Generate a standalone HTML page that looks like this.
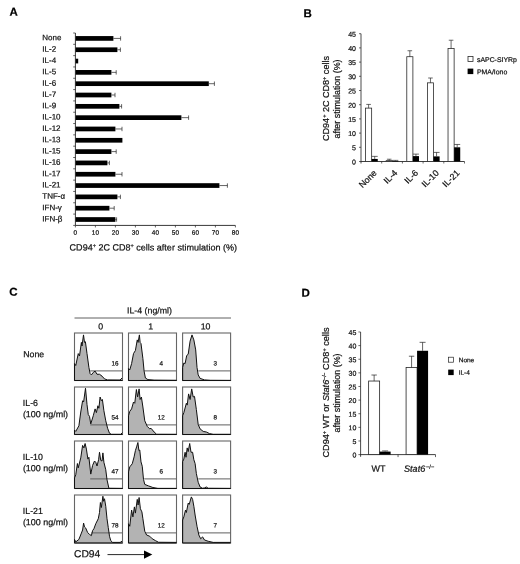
<!DOCTYPE html>
<html><head><meta charset="utf-8"><title>Figure</title>
<style>
html,body{margin:0;padding:0;background:#fff;}
body{width:520px;height:564px;overflow:hidden;}
svg{display:block;font-family:"Liberation Sans", Arial, Helvetica, sans-serif;}
text{stroke:#111;stroke-width:0.22px;paint-order:stroke fill;}
</style></head><body>
<svg width="520" height="564" viewBox="0 0 520 564">
<rect x="0" y="0" width="520" height="564" fill="#fff"/>
<text x="9.50" y="15.80" font-size="11.5" text-anchor="start" font-weight="bold" font-style="normal" fill="#000"  transform="rotate(0.05 9.50 15.80)">A</text>
<text x="303.50" y="17.20" font-size="11.5" text-anchor="start" font-weight="bold" font-style="normal" fill="#000"  transform="rotate(0.05 303.50 17.20)">B</text>
<text x="9.30" y="295.70" font-size="11.5" text-anchor="start" font-weight="bold" font-style="normal" fill="#000"  transform="rotate(0.05 9.30 295.70)">C</text>
<text x="301.50" y="296.70" font-size="11.5" text-anchor="start" font-weight="bold" font-style="normal" fill="#000"  transform="rotate(0.05 301.50 296.70)">D</text>
<rect x="75.40" y="36.07" width="38.00" height="4.70" fill="#000" stroke="none" stroke-width="0.8"/>
<line x1="113.40" y1="38.42" x2="120.60" y2="38.42" stroke="#222" stroke-width="0.7"/>
<line x1="120.60" y1="36.22" x2="120.60" y2="40.62" stroke="#222" stroke-width="0.7"/>
<text x="42.30" y="40.37" font-size="8" text-anchor="start" font-weight="normal" font-style="normal" fill="#111"  transform="rotate(0.05 42.30 40.37)">None</text>
<rect x="75.40" y="47.39" width="42.00" height="4.70" fill="#000" stroke="none" stroke-width="0.8"/>
<line x1="117.40" y1="49.74" x2="120.40" y2="49.74" stroke="#222" stroke-width="0.7"/>
<line x1="120.40" y1="47.54" x2="120.40" y2="51.94" stroke="#222" stroke-width="0.7"/>
<text x="42.30" y="51.69" font-size="8" text-anchor="start" font-weight="normal" font-style="normal" fill="#111"  transform="rotate(0.05 42.30 51.69)">IL-2</text>
<rect x="75.40" y="58.71" width="2.80" height="4.70" fill="#000" stroke="none" stroke-width="0.8"/>
<text x="42.30" y="63.01" font-size="8" text-anchor="start" font-weight="normal" font-style="normal" fill="#111"  transform="rotate(0.05 42.30 63.01)">IL-4</text>
<rect x="75.40" y="70.02" width="36.00" height="4.70" fill="#000" stroke="none" stroke-width="0.8"/>
<line x1="111.40" y1="72.37" x2="116.20" y2="72.37" stroke="#222" stroke-width="0.7"/>
<line x1="116.20" y1="70.17" x2="116.20" y2="74.57" stroke="#222" stroke-width="0.7"/>
<text x="42.30" y="74.32" font-size="8" text-anchor="start" font-weight="normal" font-style="normal" fill="#111"  transform="rotate(0.05 42.30 74.32)">IL-5</text>
<rect x="75.40" y="81.34" width="133.40" height="4.70" fill="#000" stroke="none" stroke-width="0.8"/>
<line x1="208.80" y1="83.69" x2="214.40" y2="83.69" stroke="#222" stroke-width="0.7"/>
<line x1="214.40" y1="81.49" x2="214.40" y2="85.89" stroke="#222" stroke-width="0.7"/>
<text x="42.30" y="85.64" font-size="8" text-anchor="start" font-weight="normal" font-style="normal" fill="#111"  transform="rotate(0.05 42.30 85.64)">IL-6</text>
<rect x="75.40" y="92.66" width="36.00" height="4.70" fill="#000" stroke="none" stroke-width="0.8"/>
<line x1="111.40" y1="95.01" x2="115.00" y2="95.01" stroke="#222" stroke-width="0.7"/>
<line x1="115.00" y1="92.81" x2="115.00" y2="97.21" stroke="#222" stroke-width="0.7"/>
<text x="42.30" y="96.96" font-size="8" text-anchor="start" font-weight="normal" font-style="normal" fill="#111"  transform="rotate(0.05 42.30 96.96)">IL-7</text>
<rect x="75.40" y="103.98" width="44.00" height="4.70" fill="#000" stroke="none" stroke-width="0.8"/>
<line x1="119.40" y1="106.33" x2="121.60" y2="106.33" stroke="#222" stroke-width="0.7"/>
<line x1="121.60" y1="104.13" x2="121.60" y2="108.53" stroke="#222" stroke-width="0.7"/>
<text x="42.30" y="108.28" font-size="8" text-anchor="start" font-weight="normal" font-style="normal" fill="#111"  transform="rotate(0.05 42.30 108.28)">IL-9</text>
<rect x="75.40" y="115.30" width="106.00" height="4.70" fill="#000" stroke="none" stroke-width="0.8"/>
<line x1="181.40" y1="117.65" x2="188.60" y2="117.65" stroke="#222" stroke-width="0.7"/>
<line x1="188.60" y1="115.45" x2="188.60" y2="119.85" stroke="#222" stroke-width="0.7"/>
<text x="42.30" y="119.60" font-size="8" text-anchor="start" font-weight="normal" font-style="normal" fill="#111"  transform="rotate(0.05 42.30 119.60)">IL-10</text>
<rect x="75.40" y="126.61" width="40.00" height="4.70" fill="#000" stroke="none" stroke-width="0.8"/>
<line x1="115.40" y1="128.96" x2="122.00" y2="128.96" stroke="#222" stroke-width="0.7"/>
<line x1="122.00" y1="126.76" x2="122.00" y2="131.16" stroke="#222" stroke-width="0.7"/>
<text x="42.30" y="130.91" font-size="8" text-anchor="start" font-weight="normal" font-style="normal" fill="#111"  transform="rotate(0.05 42.30 130.91)">IL-12</text>
<rect x="75.40" y="137.93" width="47.00" height="4.70" fill="#000" stroke="none" stroke-width="0.8"/>
<text x="42.30" y="142.23" font-size="8" text-anchor="start" font-weight="normal" font-style="normal" fill="#111"  transform="rotate(0.05 42.30 142.23)">IL-13</text>
<rect x="75.40" y="149.25" width="36.00" height="4.70" fill="#000" stroke="none" stroke-width="0.8"/>
<line x1="111.40" y1="151.60" x2="116.20" y2="151.60" stroke="#222" stroke-width="0.7"/>
<line x1="116.20" y1="149.40" x2="116.20" y2="153.80" stroke="#222" stroke-width="0.7"/>
<text x="42.30" y="153.55" font-size="8" text-anchor="start" font-weight="normal" font-style="normal" fill="#111"  transform="rotate(0.05 42.30 153.55)">IL-15</text>
<rect x="75.40" y="160.57" width="32.00" height="4.70" fill="#000" stroke="none" stroke-width="0.8"/>
<line x1="107.40" y1="162.92" x2="109.40" y2="162.92" stroke="#222" stroke-width="0.7"/>
<line x1="109.40" y1="160.72" x2="109.40" y2="165.12" stroke="#222" stroke-width="0.7"/>
<text x="42.30" y="164.87" font-size="8" text-anchor="start" font-weight="normal" font-style="normal" fill="#111"  transform="rotate(0.05 42.30 164.87)">IL-16</text>
<rect x="75.40" y="171.89" width="40.00" height="4.70" fill="#000" stroke="none" stroke-width="0.8"/>
<line x1="115.40" y1="174.24" x2="122.00" y2="174.24" stroke="#222" stroke-width="0.7"/>
<line x1="122.00" y1="172.04" x2="122.00" y2="176.44" stroke="#222" stroke-width="0.7"/>
<text x="42.30" y="176.19" font-size="8" text-anchor="start" font-weight="normal" font-style="normal" fill="#111"  transform="rotate(0.05 42.30 176.19)">IL-17</text>
<rect x="75.40" y="183.20" width="144.00" height="4.70" fill="#000" stroke="none" stroke-width="0.8"/>
<line x1="219.40" y1="185.55" x2="227.40" y2="185.55" stroke="#222" stroke-width="0.7"/>
<line x1="227.40" y1="183.35" x2="227.40" y2="187.75" stroke="#222" stroke-width="0.7"/>
<text x="42.30" y="187.50" font-size="8" text-anchor="start" font-weight="normal" font-style="normal" fill="#111"  transform="rotate(0.05 42.30 187.50)">IL-21</text>
<rect x="75.40" y="194.52" width="42.00" height="4.70" fill="#000" stroke="none" stroke-width="0.8"/>
<line x1="117.40" y1="196.87" x2="120.40" y2="196.87" stroke="#222" stroke-width="0.7"/>
<line x1="120.40" y1="194.67" x2="120.40" y2="199.07" stroke="#222" stroke-width="0.7"/>
<text x="42.30" y="198.82" font-size="8" text-anchor="start" font-weight="normal" font-style="normal" fill="#111"  transform="rotate(0.05 42.30 198.82)">TNF-&#945;</text>
<rect x="75.40" y="205.84" width="34.00" height="4.70" fill="#000" stroke="none" stroke-width="0.8"/>
<line x1="109.40" y1="208.19" x2="114.20" y2="208.19" stroke="#222" stroke-width="0.7"/>
<line x1="114.20" y1="205.99" x2="114.20" y2="210.39" stroke="#222" stroke-width="0.7"/>
<text x="42.30" y="210.14" font-size="8" text-anchor="start" font-weight="normal" font-style="normal" fill="#111"  transform="rotate(0.05 42.30 210.14)">IFN-&#947;</text>
<rect x="75.40" y="217.16" width="40.00" height="4.70" fill="#000" stroke="none" stroke-width="0.8"/>
<line x1="115.40" y1="219.51" x2="116.60" y2="219.51" stroke="#222" stroke-width="0.7"/>
<line x1="116.60" y1="217.31" x2="116.60" y2="221.71" stroke="#222" stroke-width="0.7"/>
<text x="42.30" y="221.46" font-size="8" text-anchor="start" font-weight="normal" font-style="normal" fill="#111"  transform="rotate(0.05 42.30 221.46)">IFN-&#946;</text>
<line x1="75.40" y1="33.00" x2="75.40" y2="225.41" stroke="#222" stroke-width="0.9"/>
<line x1="75.40" y1="225.41" x2="235.40" y2="225.41" stroke="#222" stroke-width="0.9"/>
<line x1="73.20" y1="33.00" x2="75.40" y2="33.00" stroke="#222" stroke-width="0.7"/>
<line x1="73.20" y1="44.32" x2="75.40" y2="44.32" stroke="#222" stroke-width="0.7"/>
<line x1="73.20" y1="55.64" x2="75.40" y2="55.64" stroke="#222" stroke-width="0.7"/>
<line x1="73.20" y1="66.95" x2="75.40" y2="66.95" stroke="#222" stroke-width="0.7"/>
<line x1="73.20" y1="78.27" x2="75.40" y2="78.27" stroke="#222" stroke-width="0.7"/>
<line x1="73.20" y1="89.59" x2="75.40" y2="89.59" stroke="#222" stroke-width="0.7"/>
<line x1="73.20" y1="100.91" x2="75.40" y2="100.91" stroke="#222" stroke-width="0.7"/>
<line x1="73.20" y1="112.23" x2="75.40" y2="112.23" stroke="#222" stroke-width="0.7"/>
<line x1="73.20" y1="123.54" x2="75.40" y2="123.54" stroke="#222" stroke-width="0.7"/>
<line x1="73.20" y1="134.86" x2="75.40" y2="134.86" stroke="#222" stroke-width="0.7"/>
<line x1="73.20" y1="146.18" x2="75.40" y2="146.18" stroke="#222" stroke-width="0.7"/>
<line x1="73.20" y1="157.50" x2="75.40" y2="157.50" stroke="#222" stroke-width="0.7"/>
<line x1="73.20" y1="168.82" x2="75.40" y2="168.82" stroke="#222" stroke-width="0.7"/>
<line x1="73.20" y1="180.13" x2="75.40" y2="180.13" stroke="#222" stroke-width="0.7"/>
<line x1="73.20" y1="191.45" x2="75.40" y2="191.45" stroke="#222" stroke-width="0.7"/>
<line x1="73.20" y1="202.77" x2="75.40" y2="202.77" stroke="#222" stroke-width="0.7"/>
<line x1="73.20" y1="214.09" x2="75.40" y2="214.09" stroke="#222" stroke-width="0.7"/>
<line x1="73.20" y1="225.41" x2="75.40" y2="225.41" stroke="#222" stroke-width="0.7"/>
<line x1="75.40" y1="225.41" x2="75.40" y2="227.41" stroke="#222" stroke-width="0.7"/>
<text x="75.40" y="234.71" font-size="6.4" text-anchor="middle" font-weight="normal" font-style="normal" fill="#111"  transform="rotate(0.05 75.40 234.71)">0</text>
<line x1="95.40" y1="225.41" x2="95.40" y2="227.41" stroke="#222" stroke-width="0.7"/>
<text x="95.40" y="234.71" font-size="6.4" text-anchor="middle" font-weight="normal" font-style="normal" fill="#111"  transform="rotate(0.05 95.40 234.71)">10</text>
<line x1="115.40" y1="225.41" x2="115.40" y2="227.41" stroke="#222" stroke-width="0.7"/>
<text x="115.40" y="234.71" font-size="6.4" text-anchor="middle" font-weight="normal" font-style="normal" fill="#111"  transform="rotate(0.05 115.40 234.71)">20</text>
<line x1="135.40" y1="225.41" x2="135.40" y2="227.41" stroke="#222" stroke-width="0.7"/>
<text x="135.40" y="234.71" font-size="6.4" text-anchor="middle" font-weight="normal" font-style="normal" fill="#111"  transform="rotate(0.05 135.40 234.71)">30</text>
<line x1="155.40" y1="225.41" x2="155.40" y2="227.41" stroke="#222" stroke-width="0.7"/>
<text x="155.40" y="234.71" font-size="6.4" text-anchor="middle" font-weight="normal" font-style="normal" fill="#111"  transform="rotate(0.05 155.40 234.71)">40</text>
<line x1="175.40" y1="225.41" x2="175.40" y2="227.41" stroke="#222" stroke-width="0.7"/>
<text x="175.40" y="234.71" font-size="6.4" text-anchor="middle" font-weight="normal" font-style="normal" fill="#111"  transform="rotate(0.05 175.40 234.71)">50</text>
<line x1="195.40" y1="225.41" x2="195.40" y2="227.41" stroke="#222" stroke-width="0.7"/>
<text x="195.40" y="234.71" font-size="6.4" text-anchor="middle" font-weight="normal" font-style="normal" fill="#111"  transform="rotate(0.05 195.40 234.71)">60</text>
<line x1="215.40" y1="225.41" x2="215.40" y2="227.41" stroke="#222" stroke-width="0.7"/>
<text x="215.40" y="234.71" font-size="6.4" text-anchor="middle" font-weight="normal" font-style="normal" fill="#111"  transform="rotate(0.05 215.40 234.71)">70</text>
<line x1="235.40" y1="225.41" x2="235.40" y2="227.41" stroke="#222" stroke-width="0.7"/>
<text x="235.40" y="234.71" font-size="6.4" text-anchor="middle" font-weight="normal" font-style="normal" fill="#111"  transform="rotate(0.05 235.40 234.71)">80</text>
<text x="69.60" y="250.40" font-size="9" text-anchor="start" font-weight="normal" font-style="normal" fill="#111" textLength="167.5" lengthAdjust="spacingAndGlyphs" transform="rotate(0.05 69.60 250.40)">CD94<tspan font-size="5.5" dy="-3">+</tspan><tspan dy="3" font-size="1">&#8203;</tspan> 2C CD8<tspan font-size="5.5" dy="-3">+</tspan><tspan dy="3" font-size="1">&#8203;</tspan> cells after stimulation (%)</text>
<line x1="361.00" y1="33.70" x2="361.00" y2="163.50" stroke="#2a2a2a" stroke-width="0.85"/>
<line x1="360.60" y1="161.50" x2="464.50" y2="161.50" stroke="#2a2a2a" stroke-width="0.9"/>
<line x1="359.00" y1="161.50" x2="361.00" y2="161.50" stroke="#2a2a2a" stroke-width="0.7"/>
<text x="356.00" y="164.50" font-size="7" text-anchor="end" font-weight="normal" font-style="normal" fill="#111"  transform="rotate(0.05 356.00 164.50)">0</text>
<line x1="359.00" y1="147.30" x2="361.00" y2="147.30" stroke="#2a2a2a" stroke-width="0.7"/>
<text x="356.00" y="150.30" font-size="7" text-anchor="end" font-weight="normal" font-style="normal" fill="#111"  transform="rotate(0.05 356.00 150.30)">5</text>
<line x1="359.00" y1="133.10" x2="361.00" y2="133.10" stroke="#2a2a2a" stroke-width="0.7"/>
<text x="356.00" y="136.10" font-size="7" text-anchor="end" font-weight="normal" font-style="normal" fill="#111"  transform="rotate(0.05 356.00 136.10)">10</text>
<line x1="359.00" y1="118.90" x2="361.00" y2="118.90" stroke="#2a2a2a" stroke-width="0.7"/>
<text x="356.00" y="121.90" font-size="7" text-anchor="end" font-weight="normal" font-style="normal" fill="#111"  transform="rotate(0.05 356.00 121.90)">15</text>
<line x1="359.00" y1="104.70" x2="361.00" y2="104.70" stroke="#2a2a2a" stroke-width="0.7"/>
<text x="356.00" y="107.70" font-size="7" text-anchor="end" font-weight="normal" font-style="normal" fill="#111"  transform="rotate(0.05 356.00 107.70)">20</text>
<line x1="359.00" y1="90.50" x2="361.00" y2="90.50" stroke="#2a2a2a" stroke-width="0.7"/>
<text x="356.00" y="93.50" font-size="7" text-anchor="end" font-weight="normal" font-style="normal" fill="#111"  transform="rotate(0.05 356.00 93.50)">25</text>
<line x1="359.00" y1="76.30" x2="361.00" y2="76.30" stroke="#2a2a2a" stroke-width="0.7"/>
<text x="356.00" y="79.30" font-size="7" text-anchor="end" font-weight="normal" font-style="normal" fill="#111"  transform="rotate(0.05 356.00 79.30)">30</text>
<line x1="359.00" y1="62.10" x2="361.00" y2="62.10" stroke="#2a2a2a" stroke-width="0.7"/>
<text x="356.00" y="65.10" font-size="7" text-anchor="end" font-weight="normal" font-style="normal" fill="#111"  transform="rotate(0.05 356.00 65.10)">35</text>
<line x1="359.00" y1="47.90" x2="361.00" y2="47.90" stroke="#2a2a2a" stroke-width="0.7"/>
<text x="356.00" y="50.90" font-size="7" text-anchor="end" font-weight="normal" font-style="normal" fill="#111"  transform="rotate(0.05 356.00 50.90)">40</text>
<line x1="359.00" y1="33.70" x2="361.00" y2="33.70" stroke="#2a2a2a" stroke-width="0.7"/>
<text x="356.00" y="36.70" font-size="7" text-anchor="end" font-weight="normal" font-style="normal" fill="#111"  transform="rotate(0.05 356.00 36.70)">45</text>
<line x1="381.70" y1="161.50" x2="381.70" y2="163.50" stroke="#2a2a2a" stroke-width="0.7"/>
<line x1="402.40" y1="161.50" x2="402.40" y2="163.50" stroke="#2a2a2a" stroke-width="0.7"/>
<line x1="423.10" y1="161.50" x2="423.10" y2="163.50" stroke="#2a2a2a" stroke-width="0.7"/>
<line x1="443.80" y1="161.50" x2="443.80" y2="163.50" stroke="#2a2a2a" stroke-width="0.7"/>
<line x1="464.50" y1="161.50" x2="464.50" y2="163.50" stroke="#2a2a2a" stroke-width="0.7"/>
<rect x="365.55" y="108.11" width="6.10" height="53.39" fill="#fff" stroke="#2a2a2a" stroke-width="0.8"/>
<line x1="368.60" y1="108.11" x2="368.60" y2="104.42" stroke="#2a2a2a" stroke-width="0.7"/>
<line x1="366.30" y1="104.42" x2="370.90" y2="104.42" stroke="#2a2a2a" stroke-width="0.7"/>
<rect x="371.65" y="158.94" width="6.10" height="2.56" fill="#000" stroke="none" stroke-width="0.8"/>
<line x1="374.70" y1="158.94" x2="374.70" y2="156.39" stroke="#2a2a2a" stroke-width="0.7"/>
<line x1="371.70" y1="156.39" x2="377.70" y2="156.39" stroke="#2a2a2a" stroke-width="0.7"/>
<text x="377.30" y="173.50" font-size="8.8" text-anchor="end" font-weight="normal" font-style="normal" fill="#111" transform="rotate(-45 377.30 173.50)">None</text>
<rect x="386.17" y="160.65" width="6.10" height="0.85" fill="#fff" stroke="#2a2a2a" stroke-width="0.8"/>
<line x1="389.22" y1="160.65" x2="389.22" y2="159.23" stroke="#2a2a2a" stroke-width="0.7"/>
<line x1="386.92" y1="159.23" x2="391.52" y2="159.23" stroke="#2a2a2a" stroke-width="0.7"/>
<rect x="392.27" y="160.93" width="6.10" height="0.57" fill="#000" stroke="none" stroke-width="0.8"/>
<line x1="395.32" y1="160.93" x2="395.32" y2="160.36" stroke="#2a2a2a" stroke-width="0.7"/>
<line x1="392.32" y1="160.36" x2="398.32" y2="160.36" stroke="#2a2a2a" stroke-width="0.7"/>
<text x="398.00" y="173.50" font-size="8.8" text-anchor="end" font-weight="normal" font-style="normal" fill="#111" transform="rotate(-45 398.00 173.50)">IL-4</text>
<rect x="406.79" y="56.70" width="6.10" height="104.80" fill="#fff" stroke="#2a2a2a" stroke-width="0.8"/>
<line x1="409.84" y1="56.70" x2="409.84" y2="50.74" stroke="#2a2a2a" stroke-width="0.7"/>
<line x1="407.54" y1="50.74" x2="412.14" y2="50.74" stroke="#2a2a2a" stroke-width="0.7"/>
<rect x="412.89" y="156.10" width="6.10" height="5.40" fill="#000" stroke="none" stroke-width="0.8"/>
<line x1="415.94" y1="156.10" x2="415.94" y2="154.12" stroke="#2a2a2a" stroke-width="0.7"/>
<line x1="412.94" y1="154.12" x2="418.94" y2="154.12" stroke="#2a2a2a" stroke-width="0.7"/>
<text x="418.70" y="173.50" font-size="8.8" text-anchor="end" font-weight="normal" font-style="normal" fill="#111" transform="rotate(-45 418.70 173.50)">IL-6</text>
<rect x="427.41" y="82.83" width="6.10" height="78.67" fill="#fff" stroke="#2a2a2a" stroke-width="0.8"/>
<line x1="430.46" y1="82.83" x2="430.46" y2="78.00" stroke="#2a2a2a" stroke-width="0.7"/>
<line x1="428.16" y1="78.00" x2="432.76" y2="78.00" stroke="#2a2a2a" stroke-width="0.7"/>
<rect x="433.51" y="156.39" width="6.10" height="5.11" fill="#000" stroke="none" stroke-width="0.8"/>
<line x1="436.56" y1="156.39" x2="436.56" y2="152.41" stroke="#2a2a2a" stroke-width="0.7"/>
<line x1="433.56" y1="152.41" x2="439.56" y2="152.41" stroke="#2a2a2a" stroke-width="0.7"/>
<text x="439.40" y="173.50" font-size="8.8" text-anchor="end" font-weight="normal" font-style="normal" fill="#111" transform="rotate(-45 439.40 173.50)">IL-10</text>
<rect x="448.03" y="48.47" width="6.10" height="113.03" fill="#fff" stroke="#2a2a2a" stroke-width="0.8"/>
<line x1="451.08" y1="48.47" x2="451.08" y2="40.23" stroke="#2a2a2a" stroke-width="0.7"/>
<line x1="448.78" y1="40.23" x2="453.38" y2="40.23" stroke="#2a2a2a" stroke-width="0.7"/>
<rect x="454.13" y="147.30" width="6.10" height="14.20" fill="#000" stroke="none" stroke-width="0.8"/>
<line x1="457.18" y1="147.30" x2="457.18" y2="144.46" stroke="#2a2a2a" stroke-width="0.7"/>
<line x1="454.18" y1="144.46" x2="460.18" y2="144.46" stroke="#2a2a2a" stroke-width="0.7"/>
<text x="460.10" y="173.50" font-size="8.8" text-anchor="end" font-weight="normal" font-style="normal" fill="#111" transform="rotate(-45 460.10 173.50)">IL-21</text>
<text x="329.30" y="98.50" font-size="9" text-anchor="middle" fill="#111" transform="rotate(-90 329.30 98.50)" textLength="85" lengthAdjust="spacingAndGlyphs">CD94<tspan font-size="5.5" dy="-3">+</tspan><tspan dy="3" font-size="1">&#8203;</tspan> 2C CD8<tspan font-size="5.5" dy="-3">+</tspan><tspan dy="3" font-size="1">&#8203;</tspan> cells</text>
<text x="339.80" y="99.00" font-size="9" text-anchor="middle" fill="#111" transform="rotate(-90 339.80 99.00)" textLength="79" lengthAdjust="spacingAndGlyphs">after stimulation (%)</text>
<rect x="468.00" y="56.50" width="5.00" height="5.00" fill="#fff" stroke="#2a2a2a" stroke-width="0.8"/>
<text x="477.00" y="62.00" font-size="6.9" text-anchor="start" font-weight="normal" font-style="normal" fill="#111"  transform="rotate(0.05 477.00 62.00)">sAPC-SIYRp</text>
<rect x="467.60" y="68.60" width="5.70" height="5.50" fill="#000" stroke="none" stroke-width="0.8"/>
<text x="477.00" y="74.20" font-size="6.9" text-anchor="start" font-weight="normal" font-style="normal" fill="#111"  transform="rotate(0.05 477.00 74.20)">PMA/Iono</text>
<line x1="360.60" y1="331.98" x2="360.60" y2="456.80" stroke="#2a2a2a" stroke-width="0.85"/>
<line x1="360.20" y1="454.60" x2="435.50" y2="454.60" stroke="#2a2a2a" stroke-width="0.9"/>
<line x1="358.40" y1="454.60" x2="360.60" y2="454.60" stroke="#2a2a2a" stroke-width="0.7"/>
<text x="356.40" y="457.60" font-size="7" text-anchor="end" font-weight="normal" font-style="normal" fill="#111"  transform="rotate(0.05 356.40 457.60)">0</text>
<line x1="358.40" y1="440.98" x2="360.60" y2="440.98" stroke="#2a2a2a" stroke-width="0.7"/>
<text x="356.40" y="443.98" font-size="7" text-anchor="end" font-weight="normal" font-style="normal" fill="#111"  transform="rotate(0.05 356.40 443.98)">5</text>
<line x1="358.40" y1="427.35" x2="360.60" y2="427.35" stroke="#2a2a2a" stroke-width="0.7"/>
<text x="356.40" y="430.35" font-size="7" text-anchor="end" font-weight="normal" font-style="normal" fill="#111"  transform="rotate(0.05 356.40 430.35)">10</text>
<line x1="358.40" y1="413.73" x2="360.60" y2="413.73" stroke="#2a2a2a" stroke-width="0.7"/>
<text x="356.40" y="416.73" font-size="7" text-anchor="end" font-weight="normal" font-style="normal" fill="#111"  transform="rotate(0.05 356.40 416.73)">15</text>
<line x1="358.40" y1="400.10" x2="360.60" y2="400.10" stroke="#2a2a2a" stroke-width="0.7"/>
<text x="356.40" y="403.10" font-size="7" text-anchor="end" font-weight="normal" font-style="normal" fill="#111"  transform="rotate(0.05 356.40 403.10)">20</text>
<line x1="358.40" y1="386.48" x2="360.60" y2="386.48" stroke="#2a2a2a" stroke-width="0.7"/>
<text x="356.40" y="389.48" font-size="7" text-anchor="end" font-weight="normal" font-style="normal" fill="#111"  transform="rotate(0.05 356.40 389.48)">25</text>
<line x1="358.40" y1="372.85" x2="360.60" y2="372.85" stroke="#2a2a2a" stroke-width="0.7"/>
<text x="356.40" y="375.85" font-size="7" text-anchor="end" font-weight="normal" font-style="normal" fill="#111"  transform="rotate(0.05 356.40 375.85)">30</text>
<line x1="358.40" y1="359.23" x2="360.60" y2="359.23" stroke="#2a2a2a" stroke-width="0.7"/>
<text x="356.40" y="362.23" font-size="7" text-anchor="end" font-weight="normal" font-style="normal" fill="#111"  transform="rotate(0.05 356.40 362.23)">35</text>
<line x1="358.40" y1="345.60" x2="360.60" y2="345.60" stroke="#2a2a2a" stroke-width="0.7"/>
<text x="356.40" y="348.60" font-size="7" text-anchor="end" font-weight="normal" font-style="normal" fill="#111"  transform="rotate(0.05 356.40 348.60)">40</text>
<line x1="358.40" y1="331.98" x2="360.60" y2="331.98" stroke="#2a2a2a" stroke-width="0.7"/>
<text x="356.40" y="334.98" font-size="7" text-anchor="end" font-weight="normal" font-style="normal" fill="#111"  transform="rotate(0.05 356.40 334.98)">45</text>
<line x1="398.05" y1="454.60" x2="398.05" y2="457.10" stroke="#222" stroke-width="0.7"/>
<line x1="435.50" y1="454.60" x2="435.50" y2="457.10" stroke="#222" stroke-width="0.7"/>
<rect x="368.63" y="381.03" width="11.00" height="73.58" fill="#fff" stroke="#222" stroke-width="0.8"/>
<line x1="374.13" y1="381.03" x2="374.13" y2="375.03" stroke="#222" stroke-width="0.7"/>
<line x1="371.43" y1="375.03" x2="376.83" y2="375.03" stroke="#222" stroke-width="0.7"/>
<rect x="379.63" y="451.60" width="11.00" height="3.00" fill="#000" stroke="none" stroke-width="0.8"/>
<line x1="385.13" y1="451.60" x2="385.13" y2="450.92" stroke="#222" stroke-width="0.7"/>
<line x1="382.13" y1="450.92" x2="388.13" y2="450.92" stroke="#222" stroke-width="0.7"/>
<rect x="406.08" y="367.40" width="11.00" height="87.20" fill="#fff" stroke="#222" stroke-width="0.8"/>
<line x1="411.58" y1="367.40" x2="411.58" y2="356.23" stroke="#222" stroke-width="0.7"/>
<line x1="408.88" y1="356.23" x2="414.28" y2="356.23" stroke="#222" stroke-width="0.7"/>
<rect x="417.08" y="350.78" width="11.00" height="103.82" fill="#000" stroke="none" stroke-width="0.8"/>
<line x1="422.58" y1="350.78" x2="422.58" y2="342.33" stroke="#222" stroke-width="0.7"/>
<line x1="419.58" y1="342.33" x2="425.58" y2="342.33" stroke="#222" stroke-width="0.7"/>
<text x="378.50" y="471.80" font-size="9" text-anchor="middle" font-weight="normal" font-style="normal" fill="#111"  transform="rotate(0.05 378.50 471.80)">WT</text>
<text x="404.00" y="471.80" font-size="9.1" text-anchor="start" font-weight="normal" font-style="normal" fill="#111"  transform="rotate(0.05 404.00 471.80)"><tspan font-style="italic">Stat6</tspan><tspan font-size="3"> </tspan><tspan font-size="5.6" dy="-3">&#8722;/&#8722;</tspan><tspan dy="3" font-size="1">&#8203;</tspan></text>
<text x="329.30" y="392.50" font-size="9" text-anchor="middle" fill="#111" transform="rotate(-90 329.30 392.50)" textLength="130" lengthAdjust="spacingAndGlyphs">CD94<tspan font-size="5.5" dy="-3">+</tspan><tspan dy="3" font-size="1">&#8203;</tspan> WT or <tspan font-style="italic">Stat6</tspan><tspan font-size="5" dy="-3">&#8722;/&#8722;</tspan><tspan dy="3" font-size="1">&#8203;</tspan> CD8<tspan font-size="5.5" dy="-3">+</tspan><tspan dy="3" font-size="1">&#8203;</tspan> cells</text>
<text x="339.80" y="393.00" font-size="9" text-anchor="middle" fill="#111" transform="rotate(-90 339.80 393.00)" textLength="79" lengthAdjust="spacingAndGlyphs">after stimulation (%)</text>
<rect x="448.50" y="357.20" width="5.00" height="5.00" fill="#fff" stroke="#222" stroke-width="0.7"/>
<text x="458.70" y="362.30" font-size="6.5" text-anchor="start" font-weight="normal" font-style="normal" fill="#111"  transform="rotate(0.05 458.70 362.30)">None</text>
<rect x="448.20" y="369.60" width="5.50" height="5.50" fill="#000" stroke="none" stroke-width="0.8"/>
<text x="458.70" y="374.80" font-size="6.5" text-anchor="start" font-weight="normal" font-style="normal" fill="#111"  transform="rotate(0.05 458.70 374.80)">IL-4</text>
<text x="149.50" y="313.50" font-size="8.8" text-anchor="middle" font-weight="normal" font-style="normal" fill="#111"  transform="rotate(0.05 149.50 313.50)">IL-4 (ng/ml)</text>
<line x1="74.50" y1="318.00" x2="231.00" y2="318.00" stroke="#606060" stroke-width="1.0"/>
<text x="100.75" y="329.60" font-size="8.8" text-anchor="middle" font-weight="normal" font-style="normal" fill="#111"  transform="rotate(0.05 100.75 329.60)">0</text>
<text x="150.80" y="329.60" font-size="8.8" text-anchor="middle" font-weight="normal" font-style="normal" fill="#111"  transform="rotate(0.05 150.80 329.60)">1</text>
<text x="205.60" y="329.60" font-size="8.8" text-anchor="middle" font-weight="normal" font-style="normal" fill="#111"  transform="rotate(0.05 205.60 329.60)">10</text>
<path d="M74.50,380.50 L74.50,363.60 L75.75,365.50 L78.25,353.60 L79.50,356.00 L81.40,342.40 L82.00,346.00 L83.50,334.90 L84.50,342.40 L85.40,341.75 L87.00,353.60 L88.90,367.40 L90.10,373.60 L91.40,374.90 L93.25,372.40 L95.10,371.10 L97.00,374.25 L99.50,374.25 L102.00,376.10 L104.50,378.90 L107.50,379.90 L120.10,380.00 L122.00,378.00 L122.50,380.50 Z" fill="#b3b3b3" stroke="none"/>
<rect x="74.50" y="333.00" width="48.00" height="47.50" fill="none" stroke="#666" stroke-width="1.1"/>
<line x1="90.20" y1="370.90" x2="122.50" y2="370.90" stroke="#606060" stroke-width="1.0"/>
<path d="M122.50,380.50 L74.50,380.50 L74.50,363.60 L75.75,365.50 L78.25,353.60 L79.50,356.00 L81.40,342.40 L82.00,346.00 L83.50,334.90 L84.50,342.40 L85.40,341.75 L87.00,353.60 L88.90,367.40 L90.10,373.60 L91.40,374.90 L93.25,372.40 L95.10,371.10 L97.00,374.25 L99.50,374.25 L102.00,376.10 L104.50,378.90 L107.50,379.90 L120.10,380.00 L122.00,378.00" fill="none" stroke="#111" stroke-width="1.0" stroke-linejoin="round"/>
<text x="115.10" y="365.60" font-size="6.3" text-anchor="middle" font-weight="normal" font-style="normal" fill="#111"  transform="rotate(0.05 115.10 365.60)">16</text>
<path d="M128.50,380.50 L128.50,368.60 L129.75,369.90 L131.60,363.60 L133.50,353.60 L135.40,350.50 L137.25,339.90 L138.10,342.40 L139.40,334.90 L140.10,342.40 L141.00,343.60 L142.90,358.60 L144.10,371.10 L145.40,378.00 L147.90,379.60 L154.10,380.10 L176.50,380.30 L176.50,380.50 Z" fill="#b3b3b3" stroke="none"/>
<rect x="128.50" y="333.00" width="48.00" height="47.50" fill="none" stroke="#666" stroke-width="1.1"/>
<line x1="144.20" y1="370.90" x2="176.50" y2="370.90" stroke="#606060" stroke-width="1.0"/>
<path d="M176.50,380.50 L128.50,380.50 L128.50,368.60 L129.75,369.90 L131.60,363.60 L133.50,353.60 L135.40,350.50 L137.25,339.90 L138.10,342.40 L139.40,334.90 L140.10,342.40 L141.00,343.60 L142.90,358.60 L144.10,371.10 L145.40,378.00 L147.90,379.60 L154.10,380.10 L176.50,380.30" fill="none" stroke="#111" stroke-width="1.0" stroke-linejoin="round"/>
<text x="161.20" y="365.60" font-size="6.3" text-anchor="middle" font-weight="normal" font-style="normal" fill="#111"  transform="rotate(0.05 161.20 365.60)">4</text>
<path d="M182.60,380.50 L182.60,367.40 L183.85,363.00 L185.10,363.60 L186.70,355.50 L188.20,354.25 L190.10,341.10 L192.00,334.90 L193.85,339.90 L195.70,349.90 L197.00,367.40 L198.20,374.90 L200.10,378.40 L204.50,379.90 L210.60,380.30 L230.60,380.40 L230.60,380.50 Z" fill="#b3b3b3" stroke="none"/>
<rect x="182.60" y="333.00" width="48.00" height="47.50" fill="none" stroke="#666" stroke-width="1.1"/>
<line x1="198.30" y1="370.90" x2="230.60" y2="370.90" stroke="#606060" stroke-width="1.0"/>
<path d="M230.60,380.50 L182.60,380.50 L182.60,367.40 L183.85,363.00 L185.10,363.60 L186.70,355.50 L188.20,354.25 L190.10,341.10 L192.00,334.90 L193.85,339.90 L195.70,349.90 L197.00,367.40 L198.20,374.90 L200.10,378.40 L204.50,379.90 L210.60,380.30 L230.60,380.40" fill="none" stroke="#111" stroke-width="1.0" stroke-linejoin="round"/>
<text x="215.30" y="365.60" font-size="6.3" text-anchor="middle" font-weight="normal" font-style="normal" fill="#111"  transform="rotate(0.05 215.30 365.60)">3</text>
<path d="M74.50,434.50 L74.50,430.10 L75.75,431.40 L78.90,425.75 L80.75,412.00 L82.60,400.75 L83.60,402.00 L85.50,388.25 L87.00,404.50 L88.25,414.50 L89.50,416.40 L90.75,423.90 L93.25,415.75 L95.10,408.90 L96.40,412.60 L97.90,405.75 L98.90,408.25 L100.10,397.00 L101.40,400.75 L102.40,399.50 L103.90,410.75 L105.75,420.75 L107.60,428.25 L109.50,433.25 L111.40,434.30 L120.75,434.30 L122.40,432.60 L122.50,434.50 Z" fill="#b3b3b3" stroke="none"/>
<rect x="74.50" y="387.00" width="48.00" height="47.50" fill="none" stroke="#666" stroke-width="1.1"/>
<line x1="90.20" y1="424.90" x2="122.50" y2="424.90" stroke="#606060" stroke-width="1.0"/>
<path d="M122.50,434.50 L74.50,434.50 L74.50,430.10 L75.75,431.40 L78.90,425.75 L80.75,412.00 L82.60,400.75 L83.60,402.00 L85.50,388.25 L87.00,404.50 L88.25,414.50 L89.50,416.40 L90.75,423.90 L93.25,415.75 L95.10,408.90 L96.40,412.60 L97.90,405.75 L98.90,408.25 L100.10,397.00 L101.40,400.75 L102.40,399.50 L103.90,410.75 L105.75,420.75 L107.60,428.25 L109.50,433.25 L111.40,434.30 L120.75,434.30 L122.40,432.60" fill="none" stroke="#111" stroke-width="1.0" stroke-linejoin="round"/>
<text x="115.10" y="419.60" font-size="6.3" text-anchor="middle" font-weight="normal" font-style="normal" fill="#111"  transform="rotate(0.05 115.10 419.60)">54</text>
<path d="M128.50,434.50 L128.50,415.75 L129.75,411.40 L131.60,408.90 L133.50,402.00 L134.75,403.25 L136.40,389.50 L137.60,397.00 L139.10,388.90 L140.10,399.50 L141.40,397.00 L142.90,407.00 L144.75,420.75 L147.25,426.40 L149.75,428.90 L151.00,428.25 L154.10,432.00 L156.60,434.25 L176.50,434.30 L176.50,434.50 Z" fill="#b3b3b3" stroke="none"/>
<rect x="128.50" y="387.00" width="48.00" height="47.50" fill="none" stroke="#666" stroke-width="1.1"/>
<line x1="146.80" y1="424.90" x2="176.50" y2="424.90" stroke="#606060" stroke-width="1.0"/>
<path d="M176.50,434.50 L128.50,434.50 L128.50,415.75 L129.75,411.40 L131.60,408.90 L133.50,402.00 L134.75,403.25 L136.40,389.50 L137.60,397.00 L139.10,388.90 L140.10,399.50 L141.40,397.00 L142.90,407.00 L144.75,420.75 L147.25,426.40 L149.75,428.90 L151.00,428.25 L154.10,432.00 L156.60,434.25 L176.50,434.30" fill="none" stroke="#111" stroke-width="1.0" stroke-linejoin="round"/>
<text x="161.20" y="419.60" font-size="6.3" text-anchor="middle" font-weight="normal" font-style="normal" fill="#111"  transform="rotate(0.05 161.20 419.60)">12</text>
<path d="M182.60,434.50 L182.60,415.75 L183.85,412.60 L186.35,403.25 L187.20,405.10 L188.60,393.90 L190.10,399.50 L191.70,388.90 L193.20,397.00 L194.50,396.40 L196.35,409.50 L198.20,424.50 L200.10,428.90 L203.20,431.40 L206.35,432.00 L209.50,433.60 L213.20,434.30 L230.60,434.30 L230.60,434.50 Z" fill="#b3b3b3" stroke="none"/>
<rect x="182.60" y="387.00" width="48.00" height="47.50" fill="none" stroke="#666" stroke-width="1.1"/>
<line x1="198.30" y1="424.90" x2="230.60" y2="424.90" stroke="#606060" stroke-width="1.0"/>
<path d="M230.60,434.50 L182.60,434.50 L182.60,415.75 L183.85,412.60 L186.35,403.25 L187.20,405.10 L188.60,393.90 L190.10,399.50 L191.70,388.90 L193.20,397.00 L194.50,396.40 L196.35,409.50 L198.20,424.50 L200.10,428.90 L203.20,431.40 L206.35,432.00 L209.50,433.60 L213.20,434.30 L230.60,434.30" fill="none" stroke="#111" stroke-width="1.0" stroke-linejoin="round"/>
<text x="215.30" y="419.60" font-size="6.3" text-anchor="middle" font-weight="normal" font-style="normal" fill="#111"  transform="rotate(0.05 215.30 419.60)">8</text>
<path d="M74.50,488.50 L74.50,477.90 L75.75,474.75 L77.40,463.50 L78.25,467.90 L80.75,457.90 L82.60,445.40 L83.90,447.90 L85.10,443.50 L86.40,449.10 L87.90,459.10 L88.90,457.25 L90.75,474.10 L92.60,465.40 L94.50,461.00 L95.75,462.25 L97.00,466.00 L98.60,459.75 L99.50,452.25 L100.75,460.40 L102.00,461.00 L102.90,452.90 L103.90,462.25 L105.75,469.75 L107.00,479.75 L108.90,488.25 L122.50,488.40 L122.50,488.50 Z" fill="#b3b3b3" stroke="none"/>
<rect x="74.50" y="441.00" width="48.00" height="47.50" fill="none" stroke="#666" stroke-width="1.1"/>
<line x1="90.20" y1="478.90" x2="122.50" y2="478.90" stroke="#606060" stroke-width="1.0"/>
<path d="M122.50,488.50 L74.50,488.50 L74.50,477.90 L75.75,474.75 L77.40,463.50 L78.25,467.90 L80.75,457.90 L82.60,445.40 L83.90,447.90 L85.10,443.50 L86.40,449.10 L87.90,459.10 L88.90,457.25 L90.75,474.10 L92.60,465.40 L94.50,461.00 L95.75,462.25 L97.00,466.00 L98.60,459.75 L99.50,452.25 L100.75,460.40 L102.00,461.00 L102.90,452.90 L103.90,462.25 L105.75,469.75 L107.00,479.75 L108.90,488.25 L122.50,488.40" fill="none" stroke="#111" stroke-width="1.0" stroke-linejoin="round"/>
<text x="115.10" y="473.60" font-size="6.3" text-anchor="middle" font-weight="normal" font-style="normal" fill="#111"  transform="rotate(0.05 115.10 473.60)">47</text>
<path d="M128.50,488.50 L128.50,471.90 L129.75,466.90 L132.25,463.75 L134.10,456.90 L135.40,450.60 L136.60,446.90 L137.90,442.50 L138.90,450.60 L139.75,450.00 L141.00,461.90 L142.25,466.25 L143.50,479.40 L144.75,484.40 L148.50,485.90 L152.90,487.50 L157.90,488.40 L176.50,488.40 L176.50,488.50 Z" fill="#b3b3b3" stroke="none"/>
<rect x="128.50" y="441.00" width="48.00" height="47.50" fill="none" stroke="#666" stroke-width="1.1"/>
<line x1="144.20" y1="478.90" x2="176.50" y2="478.90" stroke="#606060" stroke-width="1.0"/>
<path d="M176.50,488.50 L128.50,488.50 L128.50,471.90 L129.75,466.90 L132.25,463.75 L134.10,456.90 L135.40,450.60 L136.60,446.90 L137.90,442.50 L138.90,450.60 L139.75,450.00 L141.00,461.90 L142.25,466.25 L143.50,479.40 L144.75,484.40 L148.50,485.90 L152.90,487.50 L157.90,488.40 L176.50,488.40" fill="none" stroke="#111" stroke-width="1.0" stroke-linejoin="round"/>
<text x="161.20" y="473.60" font-size="6.3" text-anchor="middle" font-weight="normal" font-style="normal" fill="#111"  transform="rotate(0.05 161.20 473.60)">6</text>
<path d="M182.60,488.50 L182.60,461.60 L183.85,459.10 L185.10,452.25 L186.00,457.25 L187.20,447.90 L188.20,451.60 L189.70,443.50 L191.00,452.25 L192.60,452.25 L193.85,459.75 L195.10,463.50 L196.35,473.50 L198.20,482.25 L200.10,487.00 L202.60,488.25 L204.50,487.90 L206.35,487.00 L208.20,488.25 L230.60,488.40 L230.60,488.50 Z" fill="#b3b3b3" stroke="none"/>
<rect x="182.60" y="441.00" width="48.00" height="47.50" fill="none" stroke="#666" stroke-width="1.1"/>
<line x1="198.30" y1="478.90" x2="230.60" y2="478.90" stroke="#606060" stroke-width="1.0"/>
<path d="M230.60,488.50 L182.60,488.50 L182.60,461.60 L183.85,459.10 L185.10,452.25 L186.00,457.25 L187.20,447.90 L188.20,451.60 L189.70,443.50 L191.00,452.25 L192.60,452.25 L193.85,459.75 L195.10,463.50 L196.35,473.50 L198.20,482.25 L200.10,487.00 L202.60,488.25 L204.50,487.90 L206.35,487.00 L208.20,488.25 L230.60,488.40" fill="none" stroke="#111" stroke-width="1.0" stroke-linejoin="round"/>
<text x="215.30" y="473.60" font-size="6.3" text-anchor="middle" font-weight="normal" font-style="normal" fill="#111"  transform="rotate(0.05 215.30 473.60)">3</text>
<path d="M74.50,543.00 L74.50,539.40 L75.75,541.90 L78.90,539.40 L81.40,533.10 L82.60,530.00 L83.60,523.10 L84.50,526.90 L85.75,528.10 L87.60,532.50 L89.50,534.40 L91.40,535.60 L92.60,530.60 L93.90,528.75 L95.75,523.75 L98.25,518.75 L99.50,512.50 L100.40,502.50 L101.40,507.50 L102.90,496.25 L103.60,501.25 L104.50,498.75 L105.75,506.25 L107.00,518.75 L108.25,527.50 L109.50,536.25 L110.75,540.60 L112.60,542.40 L120.10,542.40 L122.00,541.25 L122.50,543.00 Z" fill="#b3b3b3" stroke="none"/>
<rect x="74.50" y="495.00" width="48.00" height="48.00" fill="none" stroke="#666" stroke-width="1.1"/>
<line x1="91.40" y1="532.90" x2="122.50" y2="532.90" stroke="#606060" stroke-width="1.0"/>
<path d="M122.50,543.00 L74.50,543.00 L74.50,539.40 L75.75,541.90 L78.90,539.40 L81.40,533.10 L82.60,530.00 L83.60,523.10 L84.50,526.90 L85.75,528.10 L87.60,532.50 L89.50,534.40 L91.40,535.60 L92.60,530.60 L93.90,528.75 L95.75,523.75 L98.25,518.75 L99.50,512.50 L100.40,502.50 L101.40,507.50 L102.90,496.25 L103.60,501.25 L104.50,498.75 L105.75,506.25 L107.00,518.75 L108.25,527.50 L109.50,536.25 L110.75,540.60 L112.60,542.40 L120.10,542.40 L122.00,541.25" fill="none" stroke="#111" stroke-width="1.0" stroke-linejoin="round"/>
<text x="115.10" y="527.60" font-size="6.3" text-anchor="middle" font-weight="normal" font-style="normal" fill="#111"  transform="rotate(0.05 115.10 527.60)">78</text>
<path d="M128.50,543.00 L128.50,523.75 L129.75,526.25 L131.60,510.00 L132.90,516.90 L134.40,506.90 L135.40,513.10 L137.25,499.40 L138.10,505.00 L139.10,497.50 L140.40,508.75 L141.90,511.90 L142.90,518.75 L144.75,531.25 L146.60,535.00 L149.75,536.25 L152.25,538.75 L155.40,540.60 L158.50,542.25 L176.50,542.40 L176.50,543.00 Z" fill="#b3b3b3" stroke="none"/>
<rect x="128.50" y="495.00" width="48.00" height="48.00" fill="none" stroke="#666" stroke-width="1.1"/>
<line x1="146.00" y1="532.90" x2="176.50" y2="532.90" stroke="#606060" stroke-width="1.0"/>
<path d="M176.50,543.00 L128.50,543.00 L128.50,523.75 L129.75,526.25 L131.60,510.00 L132.90,516.90 L134.40,506.90 L135.40,513.10 L137.25,499.40 L138.10,505.00 L139.10,497.50 L140.40,508.75 L141.90,511.90 L142.90,518.75 L144.75,531.25 L146.60,535.00 L149.75,536.25 L152.25,538.75 L155.40,540.60 L158.50,542.25 L176.50,542.40" fill="none" stroke="#111" stroke-width="1.0" stroke-linejoin="round"/>
<text x="161.20" y="527.60" font-size="6.3" text-anchor="middle" font-weight="normal" font-style="normal" fill="#111"  transform="rotate(0.05 161.20 527.60)">12</text>
<path d="M182.60,543.00 L182.60,520.00 L183.85,516.90 L185.50,510.00 L186.35,512.50 L188.20,503.10 L189.20,504.40 L191.35,496.90 L192.60,499.40 L193.85,506.25 L195.10,515.00 L197.00,526.25 L198.85,535.00 L200.70,538.75 L202.60,536.90 L204.50,540.00 L208.20,541.25 L213.20,542.40 L230.60,542.40 L230.60,543.00 Z" fill="#b3b3b3" stroke="none"/>
<rect x="182.60" y="495.00" width="48.00" height="48.00" fill="none" stroke="#666" stroke-width="1.1"/>
<line x1="198.30" y1="532.90" x2="230.60" y2="532.90" stroke="#606060" stroke-width="1.0"/>
<path d="M230.60,543.00 L182.60,543.00 L182.60,520.00 L183.85,516.90 L185.50,510.00 L186.35,512.50 L188.20,503.10 L189.20,504.40 L191.35,496.90 L192.60,499.40 L193.85,506.25 L195.10,515.00 L197.00,526.25 L198.85,535.00 L200.70,538.75 L202.60,536.90 L204.50,540.00 L208.20,541.25 L213.20,542.40 L230.60,542.40" fill="none" stroke="#111" stroke-width="1.0" stroke-linejoin="round"/>
<text x="215.30" y="527.60" font-size="6.3" text-anchor="middle" font-weight="normal" font-style="normal" fill="#111"  transform="rotate(0.05 215.30 527.60)">7</text>
<text x="23.20" y="357.30" font-size="8.8" text-anchor="start" font-weight="normal" font-style="normal" fill="#111"  transform="rotate(0.05 23.20 357.30)">None</text>
<text x="22.80" y="406.00" font-size="8.8" text-anchor="start" font-weight="normal" font-style="normal" fill="#111"  transform="rotate(0.05 22.80 406.00)">IL-6</text>
<text x="22.90" y="417.30" font-size="8.95" text-anchor="start" font-weight="normal" font-style="normal" fill="#111"  transform="rotate(0.05 22.90 417.30)">(100 ng/ml)</text>
<text x="22.80" y="460.00" font-size="8.8" text-anchor="start" font-weight="normal" font-style="normal" fill="#111"  transform="rotate(0.05 22.80 460.00)">IL-10</text>
<text x="22.90" y="471.30" font-size="8.95" text-anchor="start" font-weight="normal" font-style="normal" fill="#111"  transform="rotate(0.05 22.90 471.30)">(100 ng/ml)</text>
<text x="22.80" y="514.00" font-size="8.8" text-anchor="start" font-weight="normal" font-style="normal" fill="#111"  transform="rotate(0.05 22.80 514.00)">IL-21</text>
<text x="22.90" y="525.30" font-size="8.95" text-anchor="start" font-weight="normal" font-style="normal" fill="#111"  transform="rotate(0.05 22.90 525.30)">(100 ng/ml)</text>
<text x="74.00" y="557.20" font-size="10.3" text-anchor="start" font-weight="normal" font-style="normal" fill="#111"  transform="rotate(0.05 74.00 557.20)">CD94</text>
<line x1="107.50" y1="554.60" x2="145.00" y2="554.60" stroke="#111" stroke-width="0.9"/>
<path d="M144,550.5 L152.3,554.6 L144,558.7 Z" fill="#000"/>
</svg>
</body></html>
